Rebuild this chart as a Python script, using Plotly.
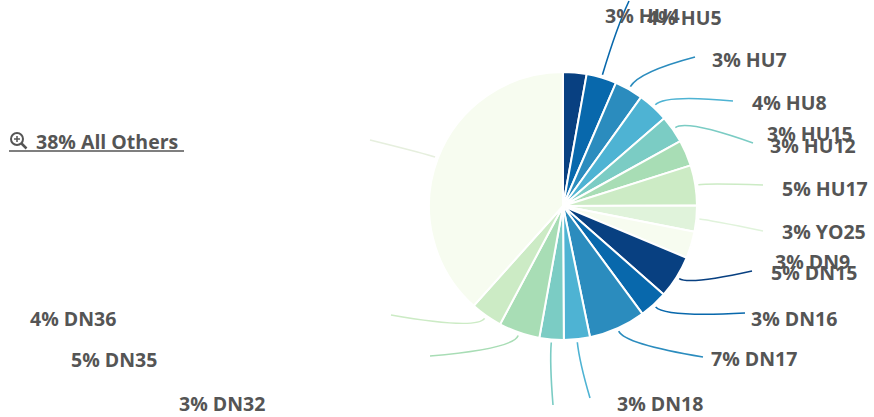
import math
import plotly.graph_objects as go

# ---- data ----
labels = ["HU4", "HU5", "HU7", "HU8", "HU12", "HU15", "HU17", "YO25", "DN9",
          "DN15", "DN16", "DN17", "DN18", "DN32", "DN35", "DN36", "All Others"]
values = [2.8, 3.6, 3.4, 3.7, 3.3, 3.1, 4.8, 3.1, 3.2,
          5.1, 3.4, 6.8, 3.1, 2.9, 4.9, 3.8, 38.0]

# ---- style / layout ----
colors = ["#084081", "#0868ac", "#2b8cbe", "#4eb3d3", "#7bccc4", "#a8ddb5", "#ccebc5", "#e0f3db", "#f7fcf0",
          "#084081", "#0868ac", "#2b8cbe", "#4eb3d3", "#7bccc4", "#a8ddb5", "#ccebc5", "#f7fcf0"]
W, H = 874, 417
CX, CY, R = 563, 206, 134
# label anchor (left x, centre y) in pixels
label_pos = [(603, 16), (645, 18), (710, 59), (750, 102), (768, 145), (765, 133), (780, 188),
             (780, 231), (773, 261), (769, 272), (749, 318), (709, 358), (615, 403),
             (177, 403), (69, 359), (28, 318), (34, 141)]
# leader line end points (None = no visible line) and bend distance
line_end = [None, (629, 1), (695, 57), (733, 101), (753, 143), None, (763, 185),
            (763, 231), None, (752, 271), (745, 313), (703, 357), (590, 398),
            (553, 405), (430, 356), (391, 315), (370, 140)]
bend = [0, 50, 17, 14, 14, 0, 10, 10, 0, 12, 14, 14, 20, 20, 14, 14, 8]
line_colors = colors[:-1] + ["#e6efde"]
FONT = "Open Sans"
FONT_SIZE = 19.5

def px(x):
    return x / W

def py(y):
    return 1 - y / H

total = sum(values)
fig = go.Figure(go.Pie(
    labels=labels, values=values, sort=False, direction="clockwise", rotation=0,
    marker=dict(colors=colors, line=dict(color="white", width=2)),
    textinfo="none", hoverinfo="label+percent",
    domain=dict(x=[px(CX - R), px(CX + R)], y=[py(CY + R), py(CY - R)]),
    showlegend=False,
))

shapes = []
annotations = []
cum = 0.0
for i, (lab, v) in enumerate(zip(labels, values)):
    mid = (cum + v / 2) / total * 2 * math.pi
    cum += v
    pct = round(v / total * 100)
    txt = f"{pct}% {lab}"
    lx, ly = label_pos[i]
    annotations.append(dict(x=px(lx), y=py(ly), xref="paper", yref="paper",
                            xanchor="left", yanchor="middle", showarrow=False,
                            text=f"<b>{txt}</b>",
                            font=dict(family=FONT, size=FONT_SIZE, color="#555555")))
    if line_end[i] is not None:
        sx = CX + (R + 3) * math.sin(mid)
        sy = CY - (R + 3) * math.cos(mid)
        cx = CX + (R + 3 + bend[i]) * math.sin(mid)
        cy = CY - (R + 3 + bend[i]) * math.cos(mid)
        ex, ey = line_end[i]
        path = f"M {px(sx)},{py(sy)} Q {px(cx)},{py(cy)} {px(ex)},{py(ey)}"
        shapes.append(dict(type="path", path=path, xref="paper", yref="paper",
                           line=dict(color=line_colors[i], width=1.6), layer="below"))

# zoom icon + underline for "All Others"
ic = "#555555"
shapes.append(dict(type="circle", xref="paper", yref="paper",
                   x0=px(11), x1=px(23), y0=py(145), y1=py(133), line=dict(color=ic, width=2)))
shapes.append(dict(type="line", xref="paper", yref="paper",
                   x0=px(21.5), x1=px(26.5), y0=py(143.5), y1=py(148.5), line=dict(color=ic, width=2.5)))
shapes.append(dict(type="line", xref="paper", yref="paper",
                   x0=px(14), x1=px(20), y0=py(139), y1=py(139), line=dict(color=ic, width=1.5)))
shapes.append(dict(type="line", xref="paper", yref="paper",
                   x0=px(17), x1=px(17), y0=py(136), y1=py(142), line=dict(color=ic, width=1.5)))
shapes.append(dict(type="line", xref="paper", yref="paper",
                   x0=px(9), x1=px(184), y0=py(151), y1=py(151), line=dict(color=ic, width=1.5)))

fig.update_layout(width=W, height=H, margin=dict(l=0, r=0, t=0, b=0),
                  paper_bgcolor="white", plot_bgcolor="white",
                  shapes=shapes, annotations=annotations)
fig.write_html("out.html", config={"displayModeBar": False},
               post_script="document.body.style.margin='0';")
